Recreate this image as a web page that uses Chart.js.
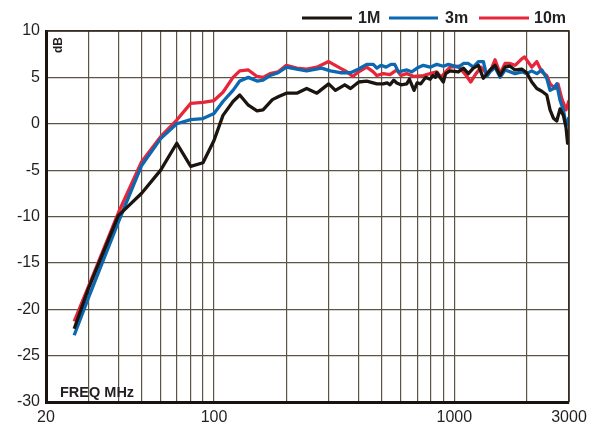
<!DOCTYPE html>
<html>
<head>
<meta charset="utf-8">
<script src="https://cdn.jsdelivr.net/npm/chart.js@4.4.1/dist/chart.umd.min.js"></script>
<style>
  html, body { margin: 0; padding: 0; background: #ffffff; }
  #chart { display: block; }
</style>
</head>
<body>
<canvas id="chart" width="596" height="426"></canvas>
<script>
// grid frequencies (MHz) and the few that get a label
const gridFreqs = [20, 30, 40, 50, 60, 70, 80, 90, 100, 200, 300, 400, 500, 600, 700, 800, 900, 1000, 2000, 3000];
const labelFreqs = [20, 100, 1000, 3000];

// 1M curve
const freq1m = [26.2, 30, 40, 50, 60, 70, 80, 90, 100, 109, 120, 128, 139, 151, 160, 175, 185, 200, 221, 243, 268, 300, 320, 350, 370, 400,
  432, 476, 506, 525, 540, 560, 576, 600, 634, 650, 680, 700, 725, 760, 793, 815, 835, 845, 900, 920, 960, 1039, 1091, 1144, 1200,
  1259, 1321, 1408, 1477, 1550, 1626, 1706, 1790, 1908, 2000, 2100, 2204, 2312, 2425, 2502, 2584, 2668, 2754, 2843, 2916, 2960, 3000];
const db1m = [-22.1, -17.8, -9.9, -7.5, -5.0, -2.1, -4.6, -4.2, -1.8, 0.9, 2.4, 3.1, 2.0, 1.4, 1.5, 2.6, 2.9, 3.3, 3.3, 3.8, 3.3, 4.3, 3.6, 4.2, 3.8, 4.5,
  4.6, 4.3, 4.3, 4.4, 4.2, 4.7, 4.4, 4.2, 4.3, 4.8, 3.6, 4.4, 4.3, 5.0, 4.8, 5.2, 5.0, 5.5, 4.5, 5.4, 5.7, 5.6, 6.0, 5.4, 6.0,
  6.3, 4.9, 5.8, 6.3, 5.2, 6.1, 6.2, 5.8, 5.9, 5.5, 4.5, 3.8, 3.5, 3.1, 1.5, 0.6, 0.3, 1.6, 0.9, -0.4, -2.1, -1.8];

// 3m curve
const freq3m = [26.2, 30, 40, 50, 60, 70, 80, 90, 100, 109, 120, 128, 139, 151, 160, 171, 185, 200, 221, 243, 280, 305, 335, 370, 400,
  432, 460, 476, 495, 520, 545, 565, 585, 634, 665, 700, 743, 793, 845, 900, 945, 1039, 1091, 1144, 1200, 1259, 1321, 1365, 1408,
  1477, 1550, 1626, 1790, 1908, 2000, 2100, 2204, 2312, 2425, 2502, 2584, 2668, 2754, 2843, 2916, 3000];
const db3m = [-22.8, -18.8, -10.6, -4.5, -1.6, 0.0, 0.45, 0.56, 1.1, 2.4, 3.6, 4.6, 5.0, 4.6, 4.7, 5.2, 5.5, 6.1, 5.9, 5.7, 6.0, 5.7, 5.5, 5.5, 5.9,
  6.4, 6.4, 6.0, 6.3, 6.1, 6.4, 6.4, 5.6, 5.8, 5.6, 6.0, 6.3, 6.1, 6.4, 6.2, 6.4, 6.1, 6.5, 6.5, 6.1, 6.7, 6.7, 5.1, 5.6,
  6.1, 5.0, 5.8, 5.4, 5.6, 5.4, 5.7, 5.4, 5.8, 4.9, 3.6, 3.8, 4.3, 2.5, 1.5, -0.2, 0.7];

// 10m curve
const freq10m = [26.2, 30, 40, 50, 60, 70, 80, 90, 100, 109, 120, 128, 139, 151, 160, 171, 185, 200, 221, 243, 268, 300, 335, 357, 378, 400,
  432, 460, 476, 506, 540, 576, 600, 634, 680, 743, 793, 845, 880, 920, 960, 1039, 1120, 1170, 1230, 1290, 1365, 1420, 1477, 1550,
  1626, 1706, 1790, 1908, 1960, 2100, 2204, 2312, 2425, 2502, 2630, 2700, 2800, 2916, 3000];
const db10m = [-21.3, -17.6, -9.6, -4.1, -1.4, 0.4, 2.2, 2.3, 2.5, 3.4, 5.0, 5.7, 5.8, 5.1, 5.0, 5.4, 5.6, 6.3, 6.0, 5.9, 6.1, 6.7, 6.0, 5.6, 5.1, 5.6,
  6.1, 5.6, 5.2, 5.4, 5.3, 5.8, 5.2, 5.4, 5.1, 5.2, 5.4, 5.6, 5.0, 5.6, 6.1, 6.2, 5.2, 4.5, 5.4, 6.1, 5.4, 5.8, 6.9, 5.4,
  6.5, 6.5, 6.3, 7.0, 7.2, 6.1, 6.7, 5.6, 5.2, 4.3, 3.8, 4.3, 2.7, 1.5, 2.5];

const FONT = "'Liberation Sans', Arial, sans-serif";
const INK = "#231f20";
const GRID = "#5c5446";

function toPoints(xs, ys) {
  return xs.map((x, i) => ({ x: x, y: ys[i] }));
}

const series = [
  { label: "1M", freq: freq1m, db: db1m, color: "#1c140e" },
  { label: "3m", freq: freq3m, db: db3m, color: "#0b68b1" },
  { label: "10m", freq: freq10m, db: db10m, color: "#e8263a" },
];

// frame, axis captions and legend
const decorPlugin = {
  id: "decor",
  afterDraw(chart) {
    const ctx = chart.ctx;
    const a = chart.chartArea;
    ctx.save();
    // thin top / right border
    ctx.strokeStyle = "#2a2218";
    ctx.lineWidth = 1.5;
    ctx.beginPath();
    ctx.moveTo(a.left, a.top);
    ctx.lineTo(a.right, a.top);
    ctx.lineTo(a.right, a.bottom);
    ctx.stroke();

    ctx.fillStyle = INK;
    // dB caption
    ctx.save();
    ctx.translate(a.left + 13, a.top + 14);
    ctx.rotate(-Math.PI / 2);
    ctx.font = "bold 12px " + FONT;
    ctx.textAlign = "center";
    ctx.textBaseline = "middle";
    ctx.fillText("dB", 0, 0);
    ctx.restore();

    // FREQ MHz caption
    ctx.font = "bold 14.5px " + FONT;
    ctx.textAlign = "left";
    ctx.textBaseline = "middle";
    ctx.fillText("FREQ MHz", a.left + 14, a.bottom - 9);

    // legend
    const items = [
      { x0: 302, x1: 352, tx: 358 },
      { x0: 389, x1: 438, tx: 445 },
      { x0: 479, x1: 529, tx: 534 },
    ];
    const ly = 18;
    ctx.font = "bold 16px " + FONT;
    items.forEach((it, i) => {
      ctx.strokeStyle = series[i].color;
      ctx.lineWidth = 3.2;
      ctx.beginPath();
      ctx.moveTo(it.x0, ly);
      ctx.lineTo(it.x1, ly);
      ctx.stroke();
      ctx.fillStyle = INK;
      ctx.fillText(series[i].label, it.tx, ly + 1);
    });
    ctx.restore();
  },
};

new Chart(document.getElementById("chart"), {
  type: "line",
  data: {
    datasets: series.map((s) => ({
      label: s.label,
      data: toPoints(s.freq, s.db),
      borderColor: s.color,
      backgroundColor: s.color,
      borderWidth: 3.3,
      pointRadius: 0,
      tension: 0,
      fill: false,
      borderJoinStyle: "round",
    })),
  },
  options: {
    responsive: false,
    animation: false,
    events: [],
    layout: { padding: { top: 31, right: 27, left: 0, bottom: 0 } },
    plugins: {
      legend: { display: false },
      tooltip: { enabled: false },
    },
    scales: {
      x: {
        type: "logarithmic",
        min: 20,
        max: 3000,
        afterBuildTicks: (scale) => {
          scale.ticks = gridFreqs.map((v) => ({ value: v }));
        },
        afterFit: (scale) => {
          scale.height = 24;
        },
        grid: { color: GRID, lineWidth: 1.2, drawTicks: false },
        border: { color: "#1a1410", width: 3 },
        ticks: {
          autoSkip: false,
          maxRotation: 0,
          padding: 6,
          color: INK,
          font: { family: FONT, size: 16 },
          callback: (v) => (labelFreqs.includes(v) ? String(v) : ""),
        },
      },
      y: {
        min: -30,
        max: 10,
        afterFit: (scale) => {
          scale.width = 46;
        },
        grid: { color: GRID, lineWidth: 1.2, drawTicks: false },
        border: { color: "#1a1410", width: 3 },
        ticks: {
          stepSize: 5,
          padding: 6,
          color: INK,
          font: { family: FONT, size: 16 },
        },
      },
    },
  },
  plugins: [decorPlugin],
});
</script>
</body>
</html>
